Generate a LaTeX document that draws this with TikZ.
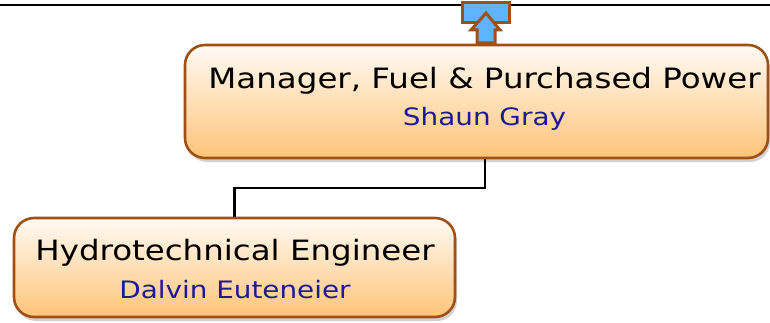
\documentclass[tikz,border=0pt]{standalone}
\usepackage{fontspec}
\setmainfont[FakeStretch=1.16]{DejaVu Sans}
\usetikzlibrary{shadows}
\definecolor{boxedge}{RGB}{160,80,20}
\definecolor{boxtop}{RGB}{255,250,244}
\definecolor{boxbot}{RGB}{255,196,120}
\definecolor{namecol}{RGB}{26,26,150}
\definecolor{upblue}{RGB}{95,180,255}
\tikzset{%
  person/.style = {shape=rectangle, rounded corners=20pt,%
                   draw=boxedge, line width=2.6pt,%
                   top color=boxtop, bottom color=boxbot,%
                   drop shadow={shadow xshift=2pt, shadow yshift=-4pt, fill=black!35}},%
  jobtitle/.style = {anchor=base, font=\fontsize{28}{33}\selectfont},%
  jobname/.style  = {anchor=base, text=namecol, font=\fontsize{24}{29}\selectfont},%
  link/.style     = {draw=black, line width=2.2pt}%
}

\begin{document}
\begin{tikzpicture}[x=1pt,y=1pt]
	\useasboundingbox (0,0) rectangle (770,322);
	% top rule and up-link icon
	\draw[line width=2.5pt] (0,317) -- (770,317);
	\node[draw=boxedge, line width=3pt, fill=upblue, minimum width=47pt, minimum height=20pt, inner sep=0pt] (upbox) at (485.5,309) {};
	\draw[draw=boxedge, line width=3pt, fill=upblue]
		(486,309) -- (500,292) -- (495,292) -- (495,279) -- (477,279) -- (477,292) -- (471,292) -- cycle;
	% boxes
	\node[person, minimum width=583pt, minimum height=113pt] (mgr) at (476.5,220.5) {};
	\node[person, minimum width=441pt, minimum height=99pt] (eng) at (234.5,54.5) {};
	% texts
	\node[jobtitle] (mgrtitle) at (484.5,234) {Manager, Fuel \& Purchased Power};
	\node[jobname] (mgrname) at (484.5,196.5) {Shaun Gray};
	\node[jobtitle] (engtitle) at (235,62) {Hydrotechnical Engineer};
	\node[jobname] (engname) at (235,24) {Dalvin Euteneier};
	% connector
	\draw[link] (mgr.south -| 485,0) -- ++(0,-29) -| (eng.north);
\end{tikzpicture}
\end{document}
